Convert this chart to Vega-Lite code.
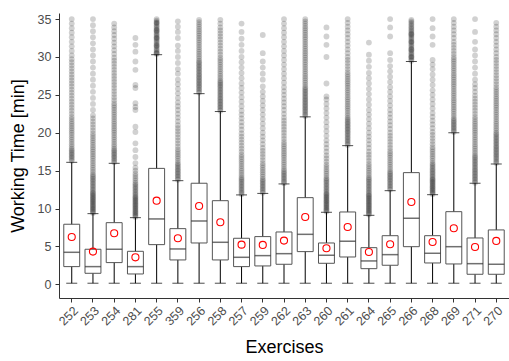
{
"$schema": "https://vega.github.io/schema/vega-lite/v6.json",
"autosize": {"type": "none"},
"padding": {"left": 59, "top": 13, "right": 0, "bottom": 63},
"width": 450,
"height": 285,
"background": "white",
"config": {"font": "Liberation Sans", "view": {"stroke": null}, "axis": {"grid": false}},
"datasets": {
"box": [
{"e":"252","lo":0.15,"q1":2.34,"med":4.23,"q3":7.93,"hi":16.1,"mean":6.25},
{"e":"253","lo":0.15,"q1":1.46,"med":2.34,"q3":4.63,"hi":9.33,"mean":4.32},
{"e":"254","lo":0.15,"q1":2.87,"med":4.63,"q3":8.14,"hi":15.97,"mean":6.74},
{"e":"281","lo":0.15,"q1":1.37,"med":2.34,"q3":4.36,"hi":8.8,"mean":3.57},
{"e":"255","lo":0.15,"q1":5.24,"med":8.63,"q3":15.3,"hi":30.3,"mean":11.04},
{"e":"359","lo":0.15,"q1":3.22,"med":4.67,"q3":7.35,"hi":13.68,"mean":6.08},
{"e":"256","lo":0.15,"q1":5.46,"med":8.36,"q3":13.34,"hi":25.16,"mean":10.34},
{"e":"258","lo":0.15,"q1":3.22,"med":5.55,"q3":11.04,"hi":22.8,"mean":8.19},
{"e":"257","lo":0.15,"q1":2.34,"med":3.57,"q3":6.08,"hi":11.8,"mean":5.24},
{"e":"259","lo":0.15,"q1":2.43,"med":3.79,"q3":6.3,"hi":12.0,"mean":5.2},
{"e":"262","lo":0.15,"q1":2.65,"med":4.05,"q3":6.91,"hi":13.25,"mean":5.77},
{"e":"263","lo":0.15,"q1":4.32,"med":6.6,"q3":11.44,"hi":22.1,"mean":8.89},
{"e":"260","lo":0.15,"q1":2.78,"med":3.84,"q3":5.46,"hi":9.51,"mean":4.76},
{"e":"261","lo":0.15,"q1":3.61,"med":5.69,"q3":9.55,"hi":18.3,"mean":7.57},
{"e":"264","lo":0.15,"q1":2.07,"med":3.09,"q3":4.84,"hi":9.11,"mean":4.27},
{"e":"265","lo":0.15,"q1":2.52,"med":3.92,"q3":6.42,"hi":12.36,"mean":5.29},
{"e":"266","lo":0.15,"q1":4.97,"med":8.72,"q3":14.74,"hi":29.4,"mean":10.87},
{"e":"268","lo":0.15,"q1":2.82,"med":4.1,"q3":6.42,"hi":11.83,"mean":5.59},
{"e":"269","lo":0.15,"q1":2.69,"med":4.97,"q3":9.59,"hi":20.0,"mean":7.4},
{"e":"271","lo":0.15,"q1":1.33,"med":2.73,"q3":6.12,"hi":13.34,"mean":4.93},
{"e":"270","lo":0.15,"q1":1.33,"med":2.65,"q3":7.18,"hi":15.88,"mean":5.73}
],
"pts": [
{"e":"252","v":16.3},{"e":"252","v":16.5},{"e":"252","v":16.7},{"e":"252","v":16.9},{"e":"252","v":17.1},{"e":"252","v":17.3},{"e":"252","v":17.5},{"e":"252","v":17.7},{"e":"252","v":17.9},{"e":"252","v":18.2},{"e":"252","v":18.5},{"e":"252","v":18.8},{"e":"252","v":19.1},{"e":"252","v":19.4},{"e":"252","v":19.7},{"e":"252","v":20},{"e":"252","v":20.3},{"e":"252","v":20.6},{"e":"252","v":20.9},{"e":"252","v":21.2},{"e":"252","v":21.5},{"e":"252","v":21.8},{"e":"252","v":22.1},{"e":"252","v":22.5},{"e":"252","v":22.9},{"e":"252","v":23.3},{"e":"252","v":23.7},{"e":"252","v":24.1},{"e":"252","v":24.5},{"e":"252","v":24.9},{"e":"252","v":25.3},{"e":"252","v":25.7},{"e":"252","v":26.1},{"e":"252","v":26.5},{"e":"252","v":26.9},{"e":"252","v":27.3},{"e":"252","v":27.7},{"e":"252","v":28.1},{"e":"252","v":28.5},{"e":"252","v":28.9},{"e":"252","v":29.3},{"e":"252","v":29.7},{"e":"252","v":30.2},{"e":"252","v":30.8},{"e":"252","v":31.4},{"e":"252","v":32},{"e":"252","v":32.6},{"e":"252","v":33.2},{"e":"252","v":33.8},{"e":"252","v":34.4},{"e":"252","v":35},
{"e":"253","v":9.4},{"e":"253","v":9.55},{"e":"253","v":9.7},{"e":"253","v":9.85},{"e":"253","v":10},{"e":"253","v":10.15},{"e":"253","v":10.3},{"e":"253","v":10.45},{"e":"253","v":10.6},{"e":"253","v":10.75},{"e":"253","v":10.9},{"e":"253","v":11.05},{"e":"253","v":11.2},{"e":"253","v":11.35},{"e":"253","v":11.5},{"e":"253","v":11.65},{"e":"253","v":11.8},{"e":"253","v":11.95},{"e":"253","v":12.1},{"e":"253","v":12.3},{"e":"253","v":12.5},{"e":"253","v":12.7},{"e":"253","v":12.9},{"e":"253","v":13.1},{"e":"253","v":13.3},{"e":"253","v":13.5},{"e":"253","v":13.7},{"e":"253","v":13.9},{"e":"253","v":14.1},{"e":"253","v":14.3},{"e":"253","v":14.5},{"e":"253","v":14.8},{"e":"253","v":15.1},{"e":"253","v":15.4},{"e":"253","v":15.7},{"e":"253","v":16},{"e":"253","v":16.3},{"e":"253","v":16.6},{"e":"253","v":16.9},{"e":"253","v":17.2},{"e":"253","v":17.5},{"e":"253","v":17.8},{"e":"253","v":18.1},{"e":"253","v":18.4},{"e":"253","v":18.7},{"e":"253","v":19},{"e":"253","v":19.3},{"e":"253","v":19.6},{"e":"253","v":19.9},{"e":"253","v":20.3},{"e":"253","v":20.7},{"e":"253","v":21.1},{"e":"253","v":21.5},{"e":"253","v":21.9},{"e":"253","v":22.3},{"e":"253","v":23},{"e":"253","v":23.8},{"e":"253","v":24.6},{"e":"253","v":25.4},{"e":"253","v":26.2},{"e":"253","v":27},{"e":"253","v":27.8},{"e":"253","v":28.6},{"e":"253","v":29.4},{"e":"253","v":30.2},{"e":"253","v":31},{"e":"253","v":31.8},{"e":"253","v":32.6},{"e":"253","v":33.4},{"e":"253","v":34.2},{"e":"253","v":35},
{"e":"254","v":16.1},{"e":"254","v":16.3},{"e":"254","v":16.5},{"e":"254","v":16.7},{"e":"254","v":16.9},{"e":"254","v":17.1},{"e":"254","v":17.3},{"e":"254","v":17.5},{"e":"254","v":17.7},{"e":"254","v":17.9},{"e":"254","v":18.2},{"e":"254","v":18.5},{"e":"254","v":18.8},{"e":"254","v":19.1},{"e":"254","v":19.4},{"e":"254","v":19.7},{"e":"254","v":20},{"e":"254","v":20.3},{"e":"254","v":20.6},{"e":"254","v":20.9},{"e":"254","v":21.2},{"e":"254","v":21.5},{"e":"254","v":21.8},{"e":"254","v":22.1},{"e":"254","v":22.4},{"e":"254","v":22.7},{"e":"254","v":23},{"e":"254","v":23.3},{"e":"254","v":23.6},{"e":"254","v":23.9},{"e":"254","v":24.3},{"e":"254","v":24.7},{"e":"254","v":25.1},{"e":"254","v":25.5},{"e":"254","v":25.9},{"e":"254","v":26.3},{"e":"254","v":26.7},{"e":"254","v":27.1},{"e":"254","v":27.5},{"e":"254","v":27.9},{"e":"254","v":28.3},{"e":"254","v":28.7},{"e":"254","v":29.1},{"e":"254","v":29.5},{"e":"254","v":29.9},{"e":"254","v":30.4},{"e":"254","v":30.9},{"e":"254","v":31.4},{"e":"254","v":31.9},{"e":"254","v":32.4},{"e":"254","v":32.9},{"e":"254","v":33.4},{"e":"254","v":33.9},{"e":"254","v":34.4},
{"e":"281","v":8.9},{"e":"281","v":9.05},{"e":"281","v":9.2},{"e":"281","v":9.35},{"e":"281","v":9.5},{"e":"281","v":9.65},{"e":"281","v":9.8},{"e":"281","v":9.95},{"e":"281","v":10.1},{"e":"281","v":10.25},{"e":"281","v":10.4},{"e":"281","v":10.55},{"e":"281","v":10.7},{"e":"281","v":10.85},{"e":"281","v":11},{"e":"281","v":11.15},{"e":"281","v":11.3},{"e":"281","v":11.45},{"e":"281","v":11.6},{"e":"281","v":11.8},{"e":"281","v":12},{"e":"281","v":12.2},{"e":"281","v":12.4},{"e":"281","v":12.6},{"e":"281","v":12.8},{"e":"281","v":13},{"e":"281","v":13.2},{"e":"281","v":13.4},{"e":"281","v":13.7},{"e":"281","v":14},{"e":"281","v":14.3},{"e":"281","v":14.6},{"e":"281","v":15},{"e":"281","v":15.4},{"e":"281","v":16},{"e":"281","v":16.8},{"e":"281","v":17.7},{"e":"281","v":18.6},{"e":"281","v":20.1},{"e":"281","v":20.8},{"e":"281","v":23},{"e":"281","v":23.4},{"e":"281","v":23.9},{"e":"281","v":25.9},{"e":"281","v":26.3},{"e":"281","v":28.3},{"e":"281","v":29.4},{"e":"281","v":30.7},{"e":"281","v":31.6},{"e":"281","v":32.5},
{"e":"255","v":30.4},{"e":"255","v":30.6},{"e":"255","v":30.8},{"e":"255","v":31},{"e":"255","v":31.2},{"e":"255","v":31.4},{"e":"255","v":31.6},{"e":"255","v":31.8},{"e":"255","v":32},{"e":"255","v":32.2},{"e":"255","v":32.4},{"e":"255","v":32.6},{"e":"255","v":32.8},{"e":"255","v":33},{"e":"255","v":33.2},{"e":"255","v":33.4},{"e":"255","v":33.6},{"e":"255","v":33.8},{"e":"255","v":34},{"e":"255","v":34.2},{"e":"255","v":34.4},{"e":"255","v":34.6},{"e":"255","v":34.8},{"e":"255","v":35},{"e":"255","v":30.5},{"e":"255","v":31.5},{"e":"255","v":32.5},{"e":"255","v":33.5},{"e":"255","v":34.5},
{"e":"359","v":13.8},{"e":"359","v":14},{"e":"359","v":14.2},{"e":"359","v":14.4},{"e":"359","v":14.6},{"e":"359","v":14.8},{"e":"359","v":15},{"e":"359","v":15.2},{"e":"359","v":15.4},{"e":"359","v":15.6},{"e":"359","v":15.8},{"e":"359","v":16},{"e":"359","v":16.3},{"e":"359","v":16.6},{"e":"359","v":16.9},{"e":"359","v":17.2},{"e":"359","v":17.5},{"e":"359","v":17.8},{"e":"359","v":18.2},{"e":"359","v":18.6},{"e":"359","v":19},{"e":"359","v":19.4},{"e":"359","v":19.8},{"e":"359","v":20.2},{"e":"359","v":20.6},{"e":"359","v":21},{"e":"359","v":21.5},{"e":"359","v":22},{"e":"359","v":22.5},{"e":"359","v":23},{"e":"359","v":23.5},{"e":"359","v":24},{"e":"359","v":24.6},{"e":"359","v":25.2},{"e":"359","v":25.8},{"e":"359","v":26.4},{"e":"359","v":27},{"e":"359","v":27.8},{"e":"359","v":28.4},{"e":"359","v":29.2},{"e":"359","v":30},{"e":"359","v":30.8},{"e":"359","v":31.5},{"e":"359","v":32.5},{"e":"359","v":33.3},{"e":"359","v":34},{"e":"359","v":34.7},
{"e":"256","v":25.3},{"e":"256","v":25.5},{"e":"256","v":25.7},{"e":"256","v":25.9},{"e":"256","v":26.1},{"e":"256","v":26.3},{"e":"256","v":26.5},{"e":"256","v":26.7},{"e":"256","v":26.9},{"e":"256","v":27.1},{"e":"256","v":27.3},{"e":"256","v":27.5},{"e":"256","v":27.7},{"e":"256","v":27.9},{"e":"256","v":28.1},{"e":"256","v":28.3},{"e":"256","v":28.5},{"e":"256","v":28.7},{"e":"256","v":28.9},{"e":"256","v":29.1},{"e":"256","v":29.3},{"e":"256","v":29.5},{"e":"256","v":29.8},{"e":"256","v":30.1},{"e":"256","v":30.4},{"e":"256","v":30.7},{"e":"256","v":31},{"e":"256","v":31.3},{"e":"256","v":31.6},{"e":"256","v":31.9},{"e":"256","v":32.2},{"e":"256","v":32.5},{"e":"256","v":32.8},{"e":"256","v":33.1},{"e":"256","v":33.4},{"e":"256","v":33.7},{"e":"256","v":34},{"e":"256","v":34.3},{"e":"256","v":34.6},{"e":"256","v":34.9},
{"e":"258","v":22.9},{"e":"258","v":23.1},{"e":"258","v":23.3},{"e":"258","v":23.5},{"e":"258","v":23.7},{"e":"258","v":23.9},{"e":"258","v":24.1},{"e":"258","v":24.3},{"e":"258","v":24.5},{"e":"258","v":24.7},{"e":"258","v":24.9},{"e":"258","v":25.1},{"e":"258","v":25.3},{"e":"258","v":25.5},{"e":"258","v":25.7},{"e":"258","v":25.9},{"e":"258","v":26.1},{"e":"258","v":26.3},{"e":"258","v":26.5},{"e":"258","v":26.7},{"e":"258","v":26.9},{"e":"258","v":27.2},{"e":"258","v":27.5},{"e":"258","v":27.8},{"e":"258","v":28.1},{"e":"258","v":28.4},{"e":"258","v":28.7},{"e":"258","v":29},{"e":"258","v":29.3},{"e":"258","v":29.6},{"e":"258","v":29.9},{"e":"258","v":30.3},{"e":"258","v":30.7},{"e":"258","v":31.1},{"e":"258","v":31.5},{"e":"258","v":31.9},{"e":"258","v":32.3},{"e":"258","v":32.7},{"e":"258","v":33.1},{"e":"258","v":33.5},{"e":"258","v":33.9},{"e":"258","v":34.4},{"e":"258","v":34.9},
{"e":"257","v":11.9},{"e":"257","v":12.1},{"e":"257","v":12.3},{"e":"257","v":12.5},{"e":"257","v":12.7},{"e":"257","v":12.9},{"e":"257","v":13.1},{"e":"257","v":13.3},{"e":"257","v":13.5},{"e":"257","v":13.7},{"e":"257","v":13.9},{"e":"257","v":14.1},{"e":"257","v":14.4},{"e":"257","v":14.7},{"e":"257","v":15},{"e":"257","v":15.3},{"e":"257","v":15.6},{"e":"257","v":15.9},{"e":"257","v":16.2},{"e":"257","v":16.5},{"e":"257","v":16.8},{"e":"257","v":17.1},{"e":"257","v":17.5},{"e":"257","v":17.9},{"e":"257","v":18.3},{"e":"257","v":18.7},{"e":"257","v":19.1},{"e":"257","v":19.5},{"e":"257","v":19.9},{"e":"257","v":20.4},{"e":"257","v":20.9},{"e":"257","v":21.4},{"e":"257","v":21.9},{"e":"257","v":22.4},{"e":"257","v":22.9},{"e":"257","v":23.5},{"e":"257","v":24.1},{"e":"257","v":24.7},{"e":"257","v":25.3},{"e":"257","v":25.9},{"e":"257","v":26.5},{"e":"257","v":27.2},{"e":"257","v":27.9},{"e":"257","v":28.6},{"e":"257","v":29.3},{"e":"257","v":30},{"e":"257","v":30.8},{"e":"257","v":31.6},{"e":"257","v":32.4},{"e":"257","v":33.3},{"e":"257","v":34.4},
{"e":"259","v":12.1},{"e":"259","v":12.3},{"e":"259","v":12.5},{"e":"259","v":12.7},{"e":"259","v":12.9},{"e":"259","v":13.1},{"e":"259","v":13.3},{"e":"259","v":13.5},{"e":"259","v":13.7},{"e":"259","v":13.9},{"e":"259","v":14.2},{"e":"259","v":14.5},{"e":"259","v":14.8},{"e":"259","v":15.1},{"e":"259","v":15.4},{"e":"259","v":15.7},{"e":"259","v":16},{"e":"259","v":16.4},{"e":"259","v":16.8},{"e":"259","v":17.2},{"e":"259","v":17.6},{"e":"259","v":18},{"e":"259","v":18.5},{"e":"259","v":19},{"e":"259","v":19.5},{"e":"259","v":20},{"e":"259","v":20.6},{"e":"259","v":21.2},{"e":"259","v":21.8},{"e":"259","v":22.4},{"e":"259","v":23},{"e":"259","v":23.6},{"e":"259","v":24.2},{"e":"259","v":24.8},{"e":"259","v":25.4},{"e":"259","v":26.1},{"e":"259","v":27},{"e":"259","v":27.8},{"e":"259","v":28.6},{"e":"259","v":29.4},{"e":"259","v":30.5},{"e":"259","v":32.9},
{"e":"262","v":13.35},{"e":"262","v":13.55},{"e":"262","v":13.75},{"e":"262","v":13.95},{"e":"262","v":14.15},{"e":"262","v":14.35},{"e":"262","v":14.55},{"e":"262","v":14.75},{"e":"262","v":14.95},{"e":"262","v":15.2},{"e":"262","v":15.5},{"e":"262","v":15.8},{"e":"262","v":16.1},{"e":"262","v":16.4},{"e":"262","v":16.7},{"e":"262","v":17},{"e":"262","v":17.3},{"e":"262","v":17.6},{"e":"262","v":17.9},{"e":"262","v":18.2},{"e":"262","v":18.5},{"e":"262","v":18.8},{"e":"262","v":19.2},{"e":"262","v":19.6},{"e":"262","v":20},{"e":"262","v":20.4},{"e":"262","v":20.8},{"e":"262","v":21.2},{"e":"262","v":21.6},{"e":"262","v":22},{"e":"262","v":22.5},{"e":"262","v":23},{"e":"262","v":23.5},{"e":"262","v":24},{"e":"262","v":24.5},{"e":"262","v":25},{"e":"262","v":25.5},{"e":"262","v":26},{"e":"262","v":26.6},{"e":"262","v":27.2},{"e":"262","v":27.8},{"e":"262","v":28.4},{"e":"262","v":29},{"e":"262","v":29.6},{"e":"262","v":30.2},{"e":"262","v":30.8},{"e":"262","v":31.4},{"e":"262","v":32},{"e":"262","v":32.6},{"e":"262","v":33.2},{"e":"262","v":33.8},{"e":"262","v":34.4},{"e":"262","v":35},
{"e":"263","v":22.2},{"e":"263","v":22.4},{"e":"263","v":22.6},{"e":"263","v":22.8},{"e":"263","v":23},{"e":"263","v":23.2},{"e":"263","v":23.4},{"e":"263","v":23.6},{"e":"263","v":23.8},{"e":"263","v":24},{"e":"263","v":24.2},{"e":"263","v":24.4},{"e":"263","v":24.6},{"e":"263","v":24.8},{"e":"263","v":25},{"e":"263","v":25.2},{"e":"263","v":25.4},{"e":"263","v":25.6},{"e":"263","v":25.8},{"e":"263","v":26},{"e":"263","v":26.3},{"e":"263","v":26.6},{"e":"263","v":26.9},{"e":"263","v":27.2},{"e":"263","v":27.5},{"e":"263","v":27.8},{"e":"263","v":28.1},{"e":"263","v":28.4},{"e":"263","v":28.7},{"e":"263","v":29},{"e":"263","v":29.3},{"e":"263","v":29.6},{"e":"263","v":29.9},{"e":"263","v":30.2},{"e":"263","v":30.5},{"e":"263","v":30.8},{"e":"263","v":31.1},{"e":"263","v":31.4},{"e":"263","v":31.7},{"e":"263","v":32},{"e":"263","v":32.3},{"e":"263","v":32.6},{"e":"263","v":32.9},{"e":"263","v":33.2},{"e":"263","v":33.5},{"e":"263","v":33.8},{"e":"263","v":34.1},{"e":"263","v":34.4},{"e":"263","v":34.7},{"e":"263","v":35},
{"e":"260","v":9.6},{"e":"260","v":9.75},{"e":"260","v":9.9},{"e":"260","v":10.05},{"e":"260","v":10.2},{"e":"260","v":10.35},{"e":"260","v":10.5},{"e":"260","v":10.65},{"e":"260","v":10.8},{"e":"260","v":10.95},{"e":"260","v":11.1},{"e":"260","v":11.25},{"e":"260","v":11.4},{"e":"260","v":11.55},{"e":"260","v":11.7},{"e":"260","v":11.85},{"e":"260","v":12},{"e":"260","v":12.2},{"e":"260","v":12.4},{"e":"260","v":12.6},{"e":"260","v":12.8},{"e":"260","v":13},{"e":"260","v":13.2},{"e":"260","v":13.4},{"e":"260","v":13.6},{"e":"260","v":13.8},{"e":"260","v":14},{"e":"260","v":14.3},{"e":"260","v":14.6},{"e":"260","v":14.9},{"e":"260","v":15.2},{"e":"260","v":15.5},{"e":"260","v":15.8},{"e":"260","v":16.2},{"e":"260","v":16.6},{"e":"260","v":17},{"e":"260","v":17.5},{"e":"260","v":18},{"e":"260","v":18.5},{"e":"260","v":19},{"e":"260","v":19.6},{"e":"260","v":20.2},{"e":"260","v":20.8},{"e":"260","v":21.4},{"e":"260","v":22},{"e":"260","v":22.6},{"e":"260","v":23.2},{"e":"260","v":23.8},{"e":"260","v":24.4},{"e":"260","v":24.8},{"e":"260","v":26.5},{"e":"260","v":30},{"e":"260","v":31.6},{"e":"260","v":32.7},{"e":"260","v":33.9},
{"e":"261","v":18.4},{"e":"261","v":18.6},{"e":"261","v":18.8},{"e":"261","v":19},{"e":"261","v":19.2},{"e":"261","v":19.4},{"e":"261","v":19.6},{"e":"261","v":19.8},{"e":"261","v":20},{"e":"261","v":20.2},{"e":"261","v":20.4},{"e":"261","v":20.6},{"e":"261","v":20.8},{"e":"261","v":21},{"e":"261","v":21.2},{"e":"261","v":21.4},{"e":"261","v":21.6},{"e":"261","v":21.8},{"e":"261","v":22},{"e":"261","v":22.3},{"e":"261","v":22.6},{"e":"261","v":22.9},{"e":"261","v":23.2},{"e":"261","v":23.5},{"e":"261","v":23.8},{"e":"261","v":24.1},{"e":"261","v":24.4},{"e":"261","v":24.7},{"e":"261","v":25},{"e":"261","v":25.3},{"e":"261","v":25.6},{"e":"261","v":25.9},{"e":"261","v":26.2},{"e":"261","v":26.5},{"e":"261","v":26.8},{"e":"261","v":27.1},{"e":"261","v":27.4},{"e":"261","v":27.7},{"e":"261","v":28},{"e":"261","v":28.4},{"e":"261","v":28.8},{"e":"261","v":29.2},{"e":"261","v":29.6},{"e":"261","v":30},{"e":"261","v":30.5},{"e":"261","v":31},{"e":"261","v":31.5},{"e":"261","v":32},{"e":"261","v":32.5},{"e":"261","v":33},{"e":"261","v":33.5},{"e":"261","v":34},{"e":"261","v":34.5},{"e":"261","v":35},
{"e":"264","v":9.2},{"e":"264","v":9.35},{"e":"264","v":9.5},{"e":"264","v":9.65},{"e":"264","v":9.8},{"e":"264","v":9.95},{"e":"264","v":10.1},{"e":"264","v":10.25},{"e":"264","v":10.4},{"e":"264","v":10.55},{"e":"264","v":10.7},{"e":"264","v":10.85},{"e":"264","v":11},{"e":"264","v":11.15},{"e":"264","v":11.3},{"e":"264","v":11.45},{"e":"264","v":11.6},{"e":"264","v":11.75},{"e":"264","v":11.9},{"e":"264","v":12.1},{"e":"264","v":12.3},{"e":"264","v":12.5},{"e":"264","v":12.7},{"e":"264","v":12.9},{"e":"264","v":13.1},{"e":"264","v":13.3},{"e":"264","v":13.5},{"e":"264","v":13.7},{"e":"264","v":13.9},{"e":"264","v":14.1},{"e":"264","v":14.4},{"e":"264","v":14.7},{"e":"264","v":15},{"e":"264","v":15.3},{"e":"264","v":15.6},{"e":"264","v":15.9},{"e":"264","v":16.3},{"e":"264","v":16.7},{"e":"264","v":17.1},{"e":"264","v":17.5},{"e":"264","v":18},{"e":"264","v":18.5},{"e":"264","v":19},{"e":"264","v":19.5},{"e":"264","v":20},{"e":"264","v":20.6},{"e":"264","v":21.2},{"e":"264","v":21.8},{"e":"264","v":22.4},{"e":"264","v":23},{"e":"264","v":23.7},{"e":"264","v":24.4},{"e":"264","v":25.1},{"e":"264","v":25.8},{"e":"264","v":26.5},{"e":"264","v":27.2},{"e":"264","v":27.9},{"e":"264","v":28.7},{"e":"264","v":29.5},{"e":"264","v":30.3},{"e":"264","v":31.9},
{"e":"265","v":12.5},{"e":"265","v":12.7},{"e":"265","v":12.9},{"e":"265","v":13.1},{"e":"265","v":13.3},{"e":"265","v":13.5},{"e":"265","v":13.7},{"e":"265","v":13.9},{"e":"265","v":14.1},{"e":"265","v":14.3},{"e":"265","v":14.5},{"e":"265","v":14.7},{"e":"265","v":14.9},{"e":"265","v":15.2},{"e":"265","v":15.5},{"e":"265","v":15.8},{"e":"265","v":16.1},{"e":"265","v":16.4},{"e":"265","v":16.7},{"e":"265","v":17},{"e":"265","v":17.3},{"e":"265","v":17.6},{"e":"265","v":18},{"e":"265","v":18.4},{"e":"265","v":18.8},{"e":"265","v":19.2},{"e":"265","v":19.6},{"e":"265","v":20},{"e":"265","v":20.5},{"e":"265","v":21},{"e":"265","v":21.5},{"e":"265","v":22},{"e":"265","v":22.5},{"e":"265","v":23},{"e":"265","v":23.6},{"e":"265","v":24.2},{"e":"265","v":24.8},{"e":"265","v":25.4},{"e":"265","v":26},{"e":"265","v":26.7},{"e":"265","v":27.4},{"e":"265","v":28.1},{"e":"265","v":28.8},{"e":"265","v":29.6},{"e":"265","v":30.5},{"e":"265","v":32.7},{"e":"265","v":33.9},{"e":"265","v":35},
{"e":"266","v":29.5},{"e":"266","v":29.7},{"e":"266","v":29.9},{"e":"266","v":30.1},{"e":"266","v":30.3},{"e":"266","v":30.5},{"e":"266","v":30.7},{"e":"266","v":30.9},{"e":"266","v":31.1},{"e":"266","v":31.3},{"e":"266","v":31.5},{"e":"266","v":31.7},{"e":"266","v":31.9},{"e":"266","v":32.1},{"e":"266","v":32.3},{"e":"266","v":32.5},{"e":"266","v":32.7},{"e":"266","v":32.9},{"e":"266","v":33.1},{"e":"266","v":33.3},{"e":"266","v":33.5},{"e":"266","v":33.7},{"e":"266","v":33.9},{"e":"266","v":34.1},{"e":"266","v":34.3},{"e":"266","v":34.5},{"e":"266","v":34.7},{"e":"266","v":34.9},{"e":"266","v":30},{"e":"266","v":31},{"e":"266","v":32},{"e":"266","v":33},
{"e":"268","v":11.9},{"e":"268","v":12.05},{"e":"268","v":12.2},{"e":"268","v":12.35},{"e":"268","v":12.5},{"e":"268","v":12.65},{"e":"268","v":12.8},{"e":"268","v":12.95},{"e":"268","v":13.1},{"e":"268","v":13.25},{"e":"268","v":13.4},{"e":"268","v":13.55},{"e":"268","v":13.7},{"e":"268","v":13.85},{"e":"268","v":14},{"e":"268","v":14.2},{"e":"268","v":14.4},{"e":"268","v":14.6},{"e":"268","v":14.8},{"e":"268","v":15},{"e":"268","v":15.2},{"e":"268","v":15.4},{"e":"268","v":15.6},{"e":"268","v":15.8},{"e":"268","v":16},{"e":"268","v":16.3},{"e":"268","v":16.6},{"e":"268","v":16.9},{"e":"268","v":17.2},{"e":"268","v":17.5},{"e":"268","v":17.8},{"e":"268","v":18.1},{"e":"268","v":18.5},{"e":"268","v":18.9},{"e":"268","v":19.3},{"e":"268","v":19.7},{"e":"268","v":20.1},{"e":"268","v":20.6},{"e":"268","v":21.1},{"e":"268","v":21.6},{"e":"268","v":22.1},{"e":"268","v":22.6},{"e":"268","v":23.2},{"e":"268","v":23.8},{"e":"268","v":24.4},{"e":"268","v":25},{"e":"268","v":25.6},{"e":"268","v":26.3},{"e":"268","v":27},{"e":"268","v":27.7},{"e":"268","v":28.4},{"e":"268","v":29},{"e":"268","v":29.6},{"e":"268","v":31.6},{"e":"268","v":32.7},{"e":"268","v":33.8},{"e":"268","v":35},
{"e":"269","v":20.1},{"e":"269","v":20.3},{"e":"269","v":20.5},{"e":"269","v":20.7},{"e":"269","v":20.9},{"e":"269","v":21.1},{"e":"269","v":21.3},{"e":"269","v":21.5},{"e":"269","v":21.7},{"e":"269","v":21.9},{"e":"269","v":22.2},{"e":"269","v":22.5},{"e":"269","v":22.8},{"e":"269","v":23.1},{"e":"269","v":23.4},{"e":"269","v":23.7},{"e":"269","v":24},{"e":"269","v":24.3},{"e":"269","v":24.6},{"e":"269","v":24.9},{"e":"269","v":25.2},{"e":"269","v":25.5},{"e":"269","v":25.8},{"e":"269","v":26.1},{"e":"269","v":26.4},{"e":"269","v":26.7},{"e":"269","v":27},{"e":"269","v":27.3},{"e":"269","v":27.6},{"e":"269","v":27.9},{"e":"269","v":28.2},{"e":"269","v":28.5},{"e":"269","v":28.8},{"e":"269","v":29.1},{"e":"269","v":29.4},{"e":"269","v":29.7},{"e":"269","v":30},{"e":"269","v":30.4},{"e":"269","v":30.8},{"e":"269","v":31.2},{"e":"269","v":31.6},{"e":"269","v":32},{"e":"269","v":32.5},{"e":"269","v":33},{"e":"269","v":33.5},{"e":"269","v":34},{"e":"269","v":34.5},{"e":"269","v":35},
{"e":"271","v":13.4},{"e":"271","v":13.6},{"e":"271","v":13.8},{"e":"271","v":14},{"e":"271","v":14.2},{"e":"271","v":14.4},{"e":"271","v":14.6},{"e":"271","v":14.8},{"e":"271","v":15},{"e":"271","v":15.2},{"e":"271","v":15.4},{"e":"271","v":15.6},{"e":"271","v":15.8},{"e":"271","v":16},{"e":"271","v":16.2},{"e":"271","v":16.4},{"e":"271","v":16.6},{"e":"271","v":16.8},{"e":"271","v":17},{"e":"271","v":17.3},{"e":"271","v":17.6},{"e":"271","v":17.9},{"e":"271","v":18.2},{"e":"271","v":18.5},{"e":"271","v":18.8},{"e":"271","v":19.1},{"e":"271","v":19.4},{"e":"271","v":19.7},{"e":"271","v":20},{"e":"271","v":20.3},{"e":"271","v":20.6},{"e":"271","v":20.9},{"e":"271","v":21.2},{"e":"271","v":21.5},{"e":"271","v":21.8},{"e":"271","v":22.1},{"e":"271","v":22.5},{"e":"271","v":22.9},{"e":"271","v":23.3},{"e":"271","v":23.7},{"e":"271","v":24.1},{"e":"271","v":24.5},{"e":"271","v":24.9},{"e":"271","v":25.4},{"e":"271","v":25.9},{"e":"271","v":26.4},{"e":"271","v":27},{"e":"271","v":27.8},{"e":"271","v":28.6},{"e":"271","v":29.4},{"e":"271","v":30.2},{"e":"271","v":31},{"e":"271","v":32},{"e":"271","v":33.3},{"e":"271","v":35},
{"e":"270","v":16},{"e":"270","v":16.2},{"e":"270","v":16.4},{"e":"270","v":16.6},{"e":"270","v":16.8},{"e":"270","v":17},{"e":"270","v":17.2},{"e":"270","v":17.4},{"e":"270","v":17.6},{"e":"270","v":17.8},{"e":"270","v":18},{"e":"270","v":18.2},{"e":"270","v":18.4},{"e":"270","v":18.6},{"e":"270","v":18.8},{"e":"270","v":19},{"e":"270","v":19.2},{"e":"270","v":19.4},{"e":"270","v":19.6},{"e":"270","v":19.8},{"e":"270","v":20},{"e":"270","v":20.3},{"e":"270","v":20.6},{"e":"270","v":20.9},{"e":"270","v":21.2},{"e":"270","v":21.5},{"e":"270","v":21.8},{"e":"270","v":22.1},{"e":"270","v":22.4},{"e":"270","v":22.7},{"e":"270","v":23},{"e":"270","v":23.3},{"e":"270","v":23.6},{"e":"270","v":23.9},{"e":"270","v":24.2},{"e":"270","v":24.5},{"e":"270","v":24.8},{"e":"270","v":25.1},{"e":"270","v":25.4},{"e":"270","v":25.7},{"e":"270","v":26},{"e":"270","v":26.4},{"e":"270","v":26.8},{"e":"270","v":27.2},{"e":"270","v":27.6},{"e":"270","v":28},{"e":"270","v":28.4},{"e":"270","v":28.8},{"e":"270","v":29.2},{"e":"270","v":29.6},{"e":"270","v":30},{"e":"270","v":30.5},{"e":"270","v":31},{"e":"270","v":31.5},{"e":"270","v":32},{"e":"270","v":32.5},{"e":"270","v":33},{"e":"270","v":33.5},{"e":"270","v":34},{"e":"270","v":34.5}
]
},
"encoding": {
"x": {"field": "e", "type": "nominal",
 "scale": {"domain": ["252","253","254","281","255","359","256","258","257","259","262","263","260","261","264","265","266","268","269","271","270"], "paddingInner": 0, "paddingOuter": 0.1},
 "axis": {"title": "Exercises", "titleFontSize": 18, "titleFontWeight": "normal", "titleColor": "black", "titlePadding": 11,
  "labelAngle": 315, "labelAlign": "right", "labelBaseline": "top", "labelFontSize": 12.5, "labelColor": "#4d4d4d", "labelPadding": 2,
  "tickColor": "#333333", "tickSize": 4, "domainColor": "#333333", "domainWidth": 1}}
},
"layer": [
{"data": {"name": "pts"}, "mark": {"type": "circle", "color": "black", "opacity": 0.18, "size": 34},
 "encoding": {"y": {"field": "v", "type": "quantitative",
  "scale": {"domain": [-1.8, 35.8], "nice": false, "zero": false},
  "axis": {"title": "Working Time [min]", "titleFontSize": 18, "titleFontWeight": "normal", "titleColor": "black", "titlePadding": 10,
   "values": [0,5,10,15,20,25,30,35], "labelFontSize": 12.5, "labelColor": "#4d4d4d", "labelPadding": 4,
   "tickColor": "#333333", "tickSize": 4, "domainColor": "#333333", "domainWidth": 1}}}},
{"data": {"name": "box"}, "mark": {"type": "rule", "color": "black", "strokeWidth": 1},
 "encoding": {"y": {"field": "lo", "type": "quantitative"}, "y2": {"field": "hi"}}},
{"data": {"name": "box"}, "mark": {"type": "tick", "color": "black", "size": 11, "thickness": 1},
 "encoding": {"y": {"field": "hi", "type": "quantitative"}}},
{"data": {"name": "box"}, "mark": {"type": "tick", "color": "black", "size": 11, "thickness": 1},
 "encoding": {"y": {"field": "lo", "type": "quantitative"}}},
{"data": {"name": "box"}, "mark": {"type": "bar", "fill": "white", "stroke": "#555555", "strokeWidth": 1, "width": {"band": 0.75}},
 "encoding": {"y": {"field": "q1", "type": "quantitative"}, "y2": {"field": "q3"}}},
{"data": {"name": "box"}, "mark": {"type": "tick", "color": "#333333", "size": 16, "thickness": 1.5},
 "encoding": {"y": {"field": "med", "type": "quantitative"}}},
{"data": {"name": "box"}, "mark": {"type": "point", "shape": "circle", "filled": false, "color": "#ff0000", "opacity": 1, "size": 50, "strokeWidth": 1.1},
 "encoding": {"y": {"field": "mean", "type": "quantitative"}}}
]
}
